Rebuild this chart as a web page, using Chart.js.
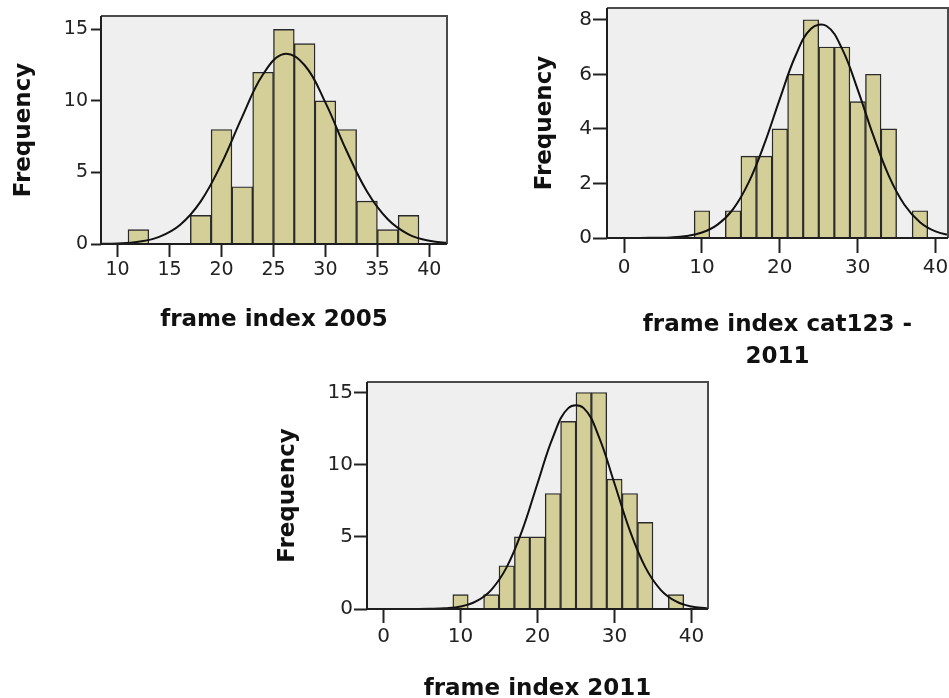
<!DOCTYPE html>
<html lang="en">
<head>
<meta charset="UTF-8">
<title>Frame index histograms</title>
<script src="https://cdn.jsdelivr.net/npm/chart.js"></script>
<style>
  body { margin: 0; width: 949px; height: 698px; overflow: hidden; background: #fff; position: relative; }
  canvas { position: absolute; }
</style>
</head>
<body>
<canvas id="chart2005" width="490" height="365" style="left:0px; top:-20px;"></canvas>
<canvas id="chartCat123" width="460" height="410" style="left:520px; top:-30px;"></canvas>
<canvas id="chart2011" width="480" height="380" style="left:270px; top:340px;"></canvas>
<script>
// bin centres (each bin is 2 wide) and frequencies
const bins2005 = [12, 14, 16, 18, 20, 22, 24, 26, 28, 30, 32, 34, 36, 38];
const freq2005 = [1, 0, 0, 2, 8, 4, 12, 15, 14, 10, 8, 3, 1, 2];

const binsCat123 = [10, 12, 14, 16, 18, 20, 22, 24, 26, 28, 30, 32, 34, 36, 38];
const freqCat123 = [1, 0, 1, 3, 3, 4, 6, 8, 7, 7, 5, 6, 4, 0, 1];

const bins2011 = [10, 12, 14, 16, 18, 20, 22, 24, 26, 28, 30, 32, 34, 36, 38];
const freq2011 = [1, 0, 1, 3, 5, 5, 8, 13, 15, 15, 9, 8, 6, 0, 1];

// normal curve, read at every 2 units
const curveX2005 = [8, 10, 12, 14, 16, 18, 20, 22, 24, 26, 28, 30, 32, 34, 36, 38, 40, 42];
const curveY2005 = [0.01, 0.04, 0.16, 0.5, 1.33, 2.98, 5.62, 8.9, 11.86, 13.27, 12.49, 9.88, 6.57, 3.67, 1.73, 0.68, 0.23, 0.06];

const curveXCat123 = [-2, 0, 2, 4, 6, 8, 10, 12, 14, 16, 18, 20, 22, 24, 26, 28, 30, 32, 34, 36, 38, 40, 42];
const curveYCat123 = [0, 0, 0, 0.01, 0.02, 0.07, 0.2, 0.49, 1.06, 2.04, 3.44, 5.1, 6.67, 7.67, 7.77, 6.93, 5.44, 3.76, 2.28, 1.22, 0.58, 0.24, 0.09];

const curveX2011 = [-2, 0, 2, 4, 6, 8, 10, 12, 14, 16, 18, 20, 22, 24, 26, 28, 30, 32, 34, 36, 38, 40, 42];
const curveY2011 = [0, 0, 0, 0, 0.01, 0.05, 0.17, 0.52, 1.33, 2.9, 5.43, 8.7, 11.9, 13.92, 13.92, 11.9, 8.7, 5.43, 2.9, 1.33, 0.52, 0.17, 0.05];

// tick labels
const xTicks2005 = [10, 15, 20, 25, 30, 35, 40];
const yTicks2005 = [0, 5, 10, 15];
const xTicksCat123 = [0, 10, 20, 30, 40];
const yTicksCat123 = [0, 2, 4, 6, 8];
const xTicks2011 = [0, 10, 20, 30, 40];
const yTicks2011 = [0, 5, 10, 15];

Chart.defaults.font.family = '"DejaVu Sans", sans-serif';

// grey plot background and frame
const plotFrame = {
  id: 'plotFrame',
  beforeDraw(chart) {
    const { ctx, chartArea: a } = chart;
    ctx.save();
    ctx.fillStyle = '#efefef';
    ctx.fillRect(a.left, a.top, a.width, a.height);
    ctx.restore();
  },
  afterDatasetsDraw(chart) {
    const { ctx, chartArea: a } = chart;
    ctx.save();
    ctx.lineWidth = 2;
    ctx.strokeStyle = '#4a4a4a';
    ctx.beginPath();
    ctx.moveTo(a.left, a.top);
    ctx.lineTo(a.right, a.top);
    ctx.lineTo(a.right, a.bottom);
    ctx.stroke();
    ctx.strokeStyle = '#1e1e1e';
    ctx.beginPath();
    ctx.moveTo(a.left, a.top);
    ctx.lineTo(a.left, a.bottom);
    ctx.lineTo(a.right, a.bottom);
    ctx.stroke();
    ctx.restore();
  }
};

function drawHistogram(id, bins, freq, curveX, curveY, o) {
  const ctx = document.getElementById(id).getContext('2d');
  new Chart(ctx, {
    type: 'bar',
    data: {
      datasets: [{
        type: 'line',
        data: curveX.map((x, i) => ({ x: x, y: curveY[i] })),
        borderColor: '#111',
        borderWidth: 2,
        pointRadius: 0,
        tension: 0.4,
        fill: false,
        order: 0
      }, {
        type: 'bar',
        data: bins.map((x, i) => ({ x: x, y: freq[i] })),
        backgroundColor: '#d4cf99',
        borderColor: '#2a2a2a',
        borderWidth: 1.4,
        borderSkipped: 'start',
        barPercentage: 1,
        categoryPercentage: 1,
        order: 1
      }]
    },
    options: {
      responsive: false,
      animation: false,
      layout: { padding: o.padding },
      plugins: { legend: { display: false }, tooltip: { enabled: false } },
      scales: {
        x: {
          type: 'linear',
          min: o.xMin,
          max: o.xMax,
          offset: false,
          afterBuildTicks: s => { s.ticks = o.xTicks.map(v => ({ value: v })); },
          afterFit: s => { s.height = o.xHeight; },
          grid: { offset: false, drawOnChartArea: false, tickLength: o.xTickLen, tickColor: '#222', tickWidth: 2 },
          border: { display: false },
          ticks: { color: '#222', padding: o.xTickPad, maxRotation: 0, font: { size: o.tickSize } },
          title: {
            display: true,
            text: o.xTitle,
            color: '#111',
            font: { size: 23, weight: 'bold', lineHeight: 1.4 },
            padding: { top: 0, bottom: o.xTitlePad }
          }
        },
        y: {
          min: 0,
          max: o.yMax,
          afterBuildTicks: s => { s.ticks = o.yTicks.map(v => ({ value: v })); },
          afterFit: s => { s.width = o.yWidth; },
          grid: { drawOnChartArea: false, tickLength: o.yTickLen, tickColor: '#222', tickWidth: 2 },
          border: { display: false },
          ticks: { color: '#222', padding: o.yTickPad, font: { size: o.tickSize } },
          title: {
            display: true,
            text: 'Frequency',
            color: '#111',
            font: { size: 23, weight: 'bold', lineHeight: 1 },
            padding: { top: o.yTitlePad, bottom: 0 }
          }
        }
      }
    },
    plugins: [plotFrame]
  });
}

drawHistogram('chart2005', bins2005, freq2005, curveX2005, curveY2005, {
  xMin: 8.4, xMax: 41.7, yMax: 15.93,
  xTicks: xTicks2005, yTicks: yTicks2005,
  padding: { top: 36, right: 43, left: 0, bottom: 0 },
  yWidth: 101, xHeight: 101,
  tickSize: 19, xTickLen: 13, xTickPad: 2, yTickLen: 10, yTickPad: 3,
  xTitle: 'frame index 2005', xTitlePad: 9, yTitlePad: 13
});

drawHistogram('chartCat123', binsCat123, freqCat123, curveXCat123, curveYCat123, {
  xMin: -2.2, xMax: 41.6, yMax: 8.43,
  xTicks: xTicksCat123, yTicks: yTicksCat123,
  padding: { top: 38, right: 32, left: 0, bottom: 0 },
  yWidth: 87, xHeight: 142,
  tickSize: 20, xTickLen: 15, xTickPad: 3, yTickLen: 14, yTickPad: 1,
  xTitle: ['frame index cat123 -', '2011'], xTitlePad: 7, yTitlePad: 14
});

drawHistogram('chart2011', bins2011, freq2011, curveX2011, curveY2011, {
  xMin: -2.15, xMax: 42.15, yMax: 15.73,
  xTicks: xTicks2011, yTicks: yTicks2011,
  padding: { top: 42, right: 42, left: 0, bottom: 0 },
  yWidth: 97, xHeight: 111,
  tickSize: 20, xTickLen: 14, xTickPad: 2, yTickLen: 13, yTickPad: 1,
  xTitle: 'frame index 2011', xTitlePad: 15, yTitlePad: 7
});
</script>
</body>
</html>
